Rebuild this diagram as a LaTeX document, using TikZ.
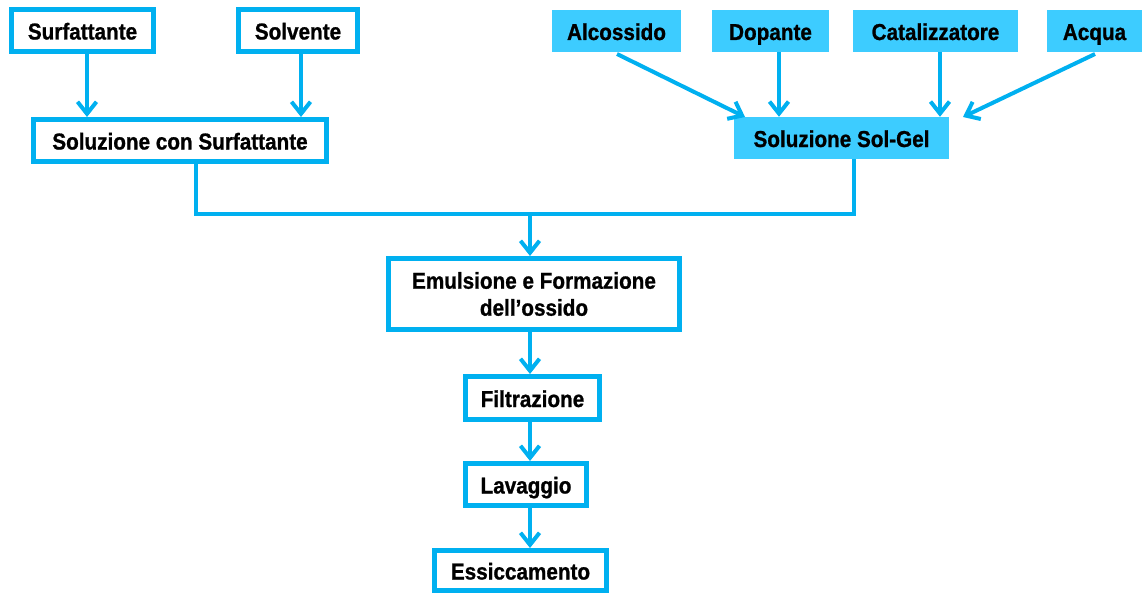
\documentclass[tikz,border=0pt]{standalone}
\usepackage{fontspec}
\setmainfont{Liberation Sans}[FakeStretch=0.9, BoldFeatures={FakeBold=1}]
\usetikzlibrary{arrows.meta}
\definecolor{oline}{RGB}{0,176,240}
\definecolor{ofill}{RGB}{61,204,255}
\tikzset{
  lbl/.style={font=\bfseries\fontsize{23}{27}\selectfont, text=black, inner sep=0pt, align=center, text height=18pt, text depth=0pt},
  obox/.style={lbl, draw=oline, line width=5pt, rectangle},
  fbox/.style={lbl, fill=ofill, rectangle},
  conn/.style={draw=oline, line width=4pt},
  arr/.style={conn, -{Straight Barb[length=12pt,width=19pt,line width=4pt]}},
}
\begin{document}
\begin{tikzpicture}[x=1pt,y=-1pt]
\useasboundingbox (0,0) rectangle (1143,594);
% outlined boxes
\node[obox, minimum width=142pt, minimum height=42pt] (surf) at (82.5,30.5) {Surfattante};
\node[obox, minimum width=119pt, minimum height=42pt] (solv) at (298,30.5) {Solvente};
\node[obox, minimum width=293pt, minimum height=42pt] (solsurf) at (180,140.5) {Soluzione con Surfattante};
\node[obox, minimum width=291pt, minimum height=71pt, text height=, text depth=] (emul) at (534,294) {Emulsione e Formazione\\dell’ossido};
\node[obox, minimum width=134pt, minimum height=43pt] (filt) at (532.5,398) {Filtrazione};
\node[obox, minimum width=121pt, minimum height=42pt] (lav) at (526,484.5) {Lavaggio};
\node[obox, minimum width=172pt, minimum height=40pt] (ess) at (520.5,570.5) {Essiccamento};
% filled boxes
\node[fbox, minimum width=129pt, minimum height=42pt] (alc) at (616.5,31) {Alcossido};
\node[fbox, minimum width=117pt, minimum height=42pt] (dop) at (770.5,31) {Dopante};
\node[fbox, minimum width=165pt, minimum height=42pt] (cat) at (935.5,31) {Catalizzatore};
\node[fbox, minimum width=95pt, minimum height=42pt] (acq) at (1094.5,31) {Acqua};
\node[fbox, minimum width=215pt, minimum height=42pt] (solgel) at (841.5,138) {Soluzione Sol-Gel};
% coordinates
\coordinate (xa) at (87,0);
\coordinate (xb) at (301,0);
\coordinate (xc) at (530,0);
\coordinate (jl) at (196,214);
\coordinate (jr) at (854,214);
\coordinate (jm) at (530,214);
\coordinate (alcs) at (617,54);
\coordinate (sga) at (745,117);
\coordinate (xd) at (779,0);
\coordinate (xe) at (940,0);
\coordinate (acqs) at (1095,54);
\coordinate (sgb) at (963,117);
% arrows
\draw[arr] (surf.south -| xa) -- (solsurf.north -| xa);
\draw[arr] (solv.south -| xb) -- (solsurf.north -| xb);
\draw[arr] (alcs) -- (sga);
\draw[arr] (dop.south -| xd) -- (solgel.north -| xd);
\draw[arr] (cat.south -| xe) -- (solgel.north -| xe);
\draw[arr] (acqs) -- (sgb);
\draw[conn, line join=miter] (solsurf.south -| jl) -- (jl) -- (jr) -- (solgel.south -| jr);
\draw[arr] (jm) -- (emul.north -| xc);
\draw[arr] (emul.south -| xc) -- (filt.north -| xc);
\draw[arr] (filt.south -| xc) -- (lav.north -| xc);
\draw[arr] (lav.south -| xc) -- (ess.north -| xc);
\end{tikzpicture}
\end{document}
